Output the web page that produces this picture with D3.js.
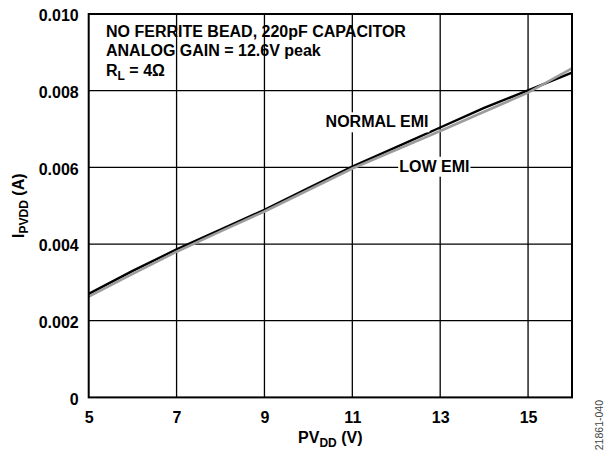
<!DOCTYPE html>
<html><head><meta charset="utf-8">
<script src="https://cdn.jsdelivr.net/npm/d3@7"></script>
<style>
html,body{margin:0;padding:0;background:#fff;}
svg{display:block;font-family:"Liberation Sans",Arial,sans-serif;}
</style></head>
<body>
<svg id="chart" width="605" height="450"></svg>
<script>
const pvdd = [5, 6, 7, 8, 9, 10, 11, 12, 13, 14, 15, 16];
const normalEmi = [0.00270, 0.00330, 0.00386, 0.00438, 0.00489, 0.00546, 0.00602, 0.00653, 0.00704, 0.00755, 0.00801, 0.00847];
const lowEmi = [0.00263, 0.00322, 0.00380, 0.00433, 0.00485, 0.00541, 0.00597, 0.00646, 0.00695, 0.00745, 0.00795, 0.00858];
const xTicks = [5, 7, 9, 11, 13, 15];
const yTicks = [0, 0.002, 0.004, 0.006, 0.008, 0.010];
const yTickLabels = ["0", "0.002", "0.004", "0.006", "0.008", "0.010"];
const noteLines = ["NO FERRITE BEAD, 220pF CAPACITOR", "ANALOG GAIN = 12.6V peak"];

const svg = d3.select("#chart");
const L = 88.7, R = 572, T = 14, B = 397.4;
const x = d3.scaleLinear().domain([5, 16]).range([L, R]);
const y = d3.scaleLinear().domain([0, 0.010]).range([B, T]);

// grid
const g = svg.append("g");
g.selectAll("line.v").data(xTicks.slice(1)).enter().append("line")
  .attr("x1", d => x(d)).attr("x2", d => x(d)).attr("y1", T).attr("y2", B)
  .attr("stroke", "#000").attr("stroke-width", 1.3);
g.selectAll("line.h").data(yTicks.slice(1, -1)).enter().append("line")
  .attr("x1", L).attr("x2", R).attr("y1", d => y(d)).attr("y2", d => y(d))
  .attr("stroke", "#000").attr("stroke-width", 1.3);

// axes (labels only, via d3 axis)
const xAxis = svg.append("g").attr("transform", `translate(0,${B})`)
  .call(d3.axisBottom(x).tickValues(xTicks).tickSize(0).tickPadding(14).tickFormat(d3.format("d")));
xAxis.select(".domain").remove();
xAxis.selectAll("text").attr("font-size", 16).attr("font-weight", "bold")
  .attr("font-family", "Liberation Sans, Arial, sans-serif").attr("fill", "#000");

const yAxis = svg.append("g").attr("transform", `translate(${L},0)`)
  .call(d3.axisLeft(y).tickValues(yTicks).tickSize(0).tickPadding(10).tickFormat((d, i) => yTickLabels[i]));
yAxis.select(".domain").remove();
yAxis.selectAll("text").attr("font-size", 16).attr("font-weight", "bold")
  .attr("font-family", "Liberation Sans, Arial, sans-serif").attr("fill", "#000").attr("dy", "0.42em");

// series
const line = d3.line().x((d, i) => x(pvdd[i])).y(d => y(d));
svg.append("path").datum(normalEmi).attr("d", line)
  .attr("fill", "none").attr("stroke", "#000").attr("stroke-width", 2.4);
svg.append("path").datum(lowEmi).attr("d", line)
  .attr("fill", "none").attr("stroke", "#9c9c9c").attr("stroke-width", 2.6);

// border
svg.append("rect").attr("x", L).attr("y", T).attr("width", R - L).attr("height", B - T)
  .attr("fill", "none").attr("stroke", "#000").attr("stroke-width", 2);

// series labels with white boxes
function boxedLabel(txt, xc, base) {
  const t = svg.append("text").attr("x", xc).attr("y", base).attr("text-anchor", "middle")
    .attr("font-size", 16).attr("font-weight", "bold").text(txt);
  const bb = t.node().getBBox();
  svg.insert("rect", function(){ return t.node(); })
    .attr("x", bb.x - 1).attr("y", base - 15).attr("width", bb.width + 2).attr("height", 20)
    .attr("fill", "#fff");
}
boxedLabel("NORMAL EMI", 377, 127.3);
boxedLabel("LOW EMI", 434.3, 171.7);

// annotation
const note = svg.append("g").attr("font-size", 16).attr("font-weight", "bold");
note.selectAll("text.n").data(noteLines).enter().append("text")
  .attr("x", 106).attr("y", (d, i) => 36.7 + i * 19.5).text(d => d);
const rl = note.append("text").attr("x", 106).attr("y", 75.7);
rl.append("tspan").text("R");
rl.append("tspan").attr("font-size", 12).attr("dy", 4).text("L");
rl.append("tspan").attr("dy", -4).text(" = 4Ω");

// axis titles
const xt = svg.append("text").attr("x", (L + R) / 2).attr("y", 443).attr("text-anchor", "middle")
  .attr("font-size", 16).attr("font-weight", "bold");
xt.append("tspan").text("PV");
xt.append("tspan").attr("font-size", 12).attr("dy", 3.5).text("DD");
xt.append("tspan").attr("dy", -3.5).text(" (V)");

const yt = svg.append("text").attr("transform", `translate(24,${(T + B) / 2}) rotate(-90)`)
  .attr("text-anchor", "middle").attr("font-size", 16).attr("font-weight", "bold");
yt.append("tspan").text("I");
yt.append("tspan").attr("font-size", 12).attr("dy", 4).text("PVDD");
yt.append("tspan").attr("dy", -4).text(" (A)");

// figure code
svg.append("text").attr("transform", "translate(603,400) rotate(-90)")
  .attr("text-anchor", "end").attr("font-size", 10.5).attr("fill", "#444").text("21861-040");
</script>
</body></html>
